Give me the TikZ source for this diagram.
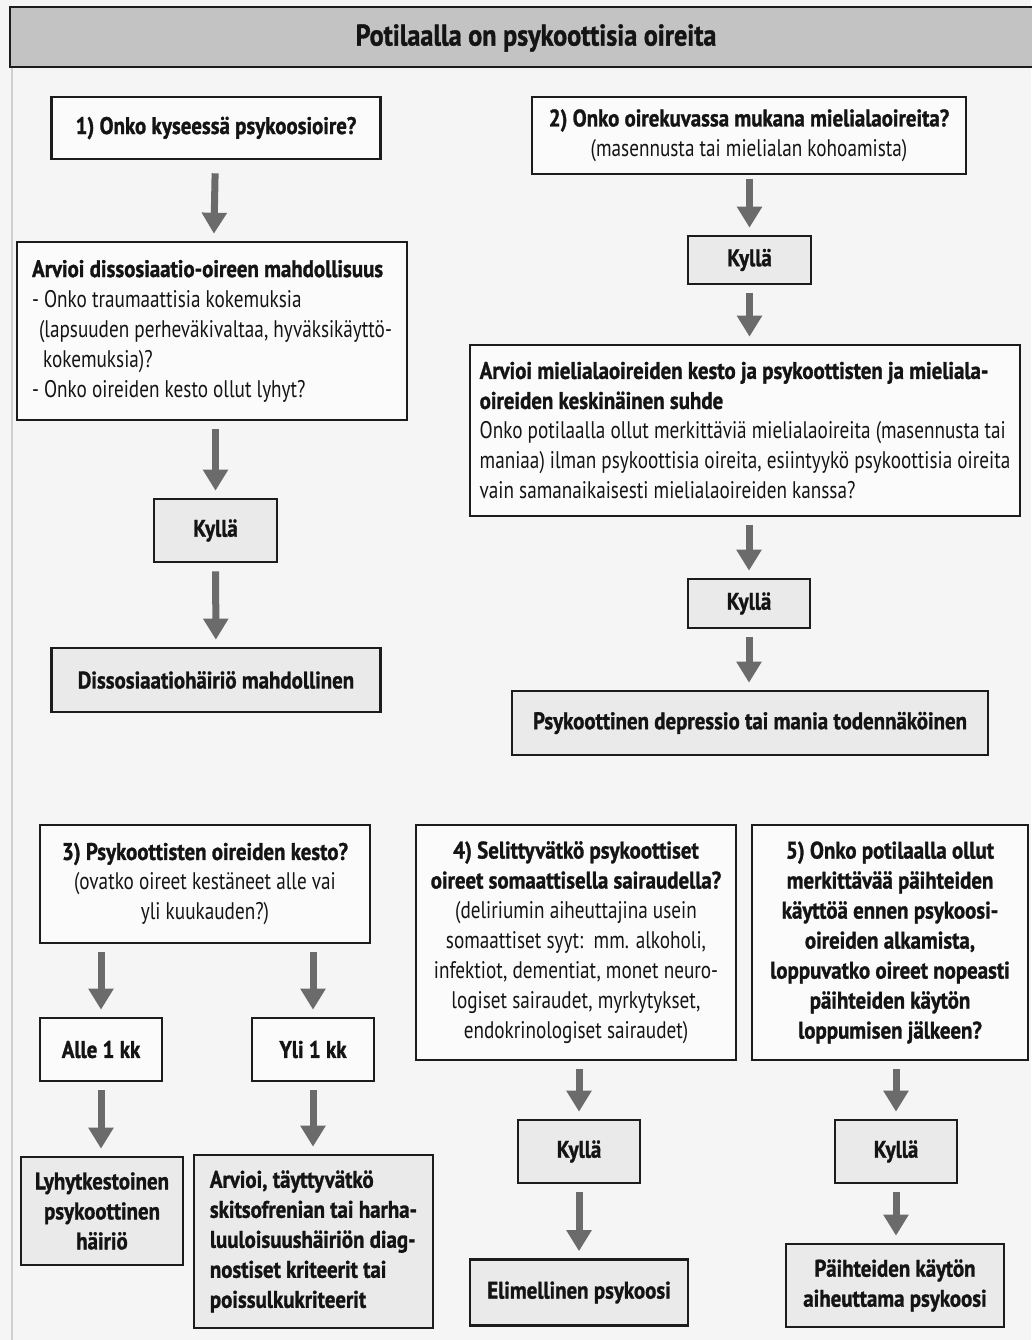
\documentclass[tikz,border=0pt]{standalone}
\usepackage{fontspec}
\setmainfont[FakeStretch=0.80,BoldFeatures={FakeStretch=0.87,FakeBold=1.2}]{PT Sans}
\usetikzlibrary{arrows.meta}
\definecolor{bg}{HTML}{F5F5F5}
\definecolor{titlefill}{HTML}{C3C3C3}
\definecolor{qfill}{HTML}{FBFBFB}
\definecolor{kfill}{HTML}{EAEAEA}
\definecolor{arrowgray}{HTML}{6B6B6B}
\definecolor{edge}{HTML}{1C1C1C}
\definecolor{ink}{HTML}{141414}
\definecolor{frameline}{HTML}{CFCFCF}
\begin{document}
\begin{tikzpicture}[x=1pt,y=-1pt,
  wh/.style n args={2}{minimum width=#1pt,minimum height=#2pt},
  basebox/.style={draw=edge,line width=2.6pt,inner sep=0pt,text=ink,
    font=\fontsize{24}{30}\selectfont},
  qbox/.style={basebox,fill=qfill},
  kbox/.style={basebox,fill=kfill},
  allbold/.style={font=\fontsize{24}{30}\selectfont\bfseries},
  flow/.style={draw=arrowgray,line width=7pt,
    -{Triangle[width=24pt,length=21pt]},shorten <=8pt,shorten >=7pt}
]
\useasboundingbox (0,0) rectangle (1031,1340);
\fill[bg] (0,0) rectangle (1031,1340);
\draw[frameline,line width=1.5pt] (12,67) -- (12,1340);
% title bar
\draw[draw=edge,fill=titlefill,line width=2.4pt] (10,7) rectangle (1040,67);
\node[text=ink,font=\fontsize{30}{34}\selectfont\bfseries] (title) at (536,38) {Potilaalla on psykoottisia oireita};

% ---- column 1
\node[qbox,allbold,wh={329}{62},align=center] (q1) at (216,128) {1) Onko kyseessä psykoosioire?};
\node[qbox,wh={390}{178},align=left] (dA) at (212,331)
 {\bfseries Arvioi dissosiaatio-oireen mahdollisuus\\
  - Onko traumaattisia kokemuksia\\
  \hspace*{7pt}(lapsuuden perheväkivaltaa, hyväksikäyttö-\\
  \hspace*{11pt}kokemuksia)?\\
  - Onko oireiden kesto ollut lyhyt?};
\node[kbox,allbold,wh={123}{63}] (k1) at (215.5,530.5) {Kyllä};
\node[kbox,allbold,wh={329}{64}] (r1) at (216,680) {Dissosiaatiohäiriö mahdollinen};

% ---- column 2
\node[qbox,wh={434}{77},align=center] (q2) at (749,135.5)
 {\bfseries 2) Onko oirekuvassa mukana mielialaoireita?\\(masennusta tai mielialan kohoamista)};
\node[kbox,allbold,wh={123}{48}] (k2) at (749.5,260) {Kyllä};
\node[qbox,wh={550}{171},align=left] (mB) at (745,430.5)
 {\bfseries Arvioi mielialaoireiden kesto ja psykoottisten ja mieliala-\\
  \bfseries oireiden keskinäinen suhde\\
  Onko potilaalla ollut merkittäviä mielialaoireita (masennusta tai\\
  maniaa) ilman psykoottisia oireita, esiintyykö psykoottisia oireita\\
  vain samanaikaisesti mielialaoireiden kanssa?};
\node[kbox,allbold,wh={122}{49}] (k3) at (749,603.5) {Kyllä};
\node[kbox,allbold,wh={476}{64}] (r2) at (750,723) {Psykoottinen depressio tai mania todennäköinen};

% ---- bottom: question 3
\node[qbox,wh={330}{118},align=center] (q3) at (205,884)
 {\bfseries 3) Psykoottisten oireiden kesto?\\(ovatko oireet kestäneet alle vai\\yli kuukauden?)};
\node[qbox,allbold,wh={122}{63}] (alle) at (101,1049.5) {Alle 1 kk};
\node[qbox,allbold,wh={122}{63}] (yli) at (313,1049.5) {Yli 1 kk};
\node[kbox,allbold,wh={162}{108},align=center] (lyh) at (102,1211)
 {Lyhytkestoinen\\psykoottinen\\häiriö};
\node[kbox,allbold,wh={239}{173},align=left] (arv) at (313.5,1241.5)
 {Arvioi, täyttyvätkö\\skitsofrenian tai harha-\\luuloisuushäiriön diag-\\nostiset kriteerit tai\\poissulkukriteerit};

% ---- question 4
\node[qbox,wh={320}{235},align=center] (q4) at (576,942.5)
 {\bfseries 4) Selittyvätkö psykoottiset\\\bfseries oireet somaattisella sairaudella?\\
  (deliriumin aiheuttajina usein\\somaattiset syyt:\ \ mm. alkoholi,\\
  infektiot, dementiat, monet neuro-\\logiset sairaudet, myrkytykset,\\
  endokrinologiset sairaudet)};
\node[kbox,allbold,wh={122}{63}] (k4) at (579,1151.5) {Kyllä};
\node[kbox,allbold,wh={218}{66}] (el) at (579,1292.5) {Elimellinen psykoosi};

% ---- question 5
\node[qbox,allbold,wh={276}{235},align=center] (q5) at (890,942.5)
 {5) Onko potilaalla ollut\\merkittävää päihteiden\\käyttöä ennen psykoosi-\\
  oireiden alkamista,\\loppuvatko oireet nopeasti\\päihteiden käytön\\loppumisen jälkeen?};
\node[kbox,allbold,wh={122}{63}] (k5) at (896,1151.5) {Kyllä};
\node[kbox,allbold,wh={218}{83},align=center] (pa) at (895,1285.5)
 {Päihteiden käytön\\aiheuttama psykoosi};

% ---- arrows
\draw[flow,shorten <=13pt] (q1) -- (dA);
\draw[flow] (dA.south -| k1.north) -- (k1);
\draw[flow] (k1) -- (r1);
\draw[flow,shorten <=4pt] (q2.south -| k2.north) -- (k2);
\draw[flow] (k2) -- (mB.north -| k2.south);
\draw[flow] (mB.south -| k3.north) -- (k3);
\draw[flow] (k3) -- (r2.north -| k3.south);
\draw[flow] (q3.south -| alle.north) -- (alle);
\draw[flow] (q3.south -| yli.north) -- (yli);
\draw[flow] (alle) -- (lyh.north -| alle.south);
\draw[flow] (yli) -- (arv.north -| yli.south);
\draw[flow] (q4.south -| k4.north) -- (k4);
\draw[flow] (k4) -- (el);
\draw[flow] (q5.south -| k5.north) -- (k5);
\draw[flow] (k5) -- (pa.north -| k5.south);
\end{tikzpicture}
\end{document}
